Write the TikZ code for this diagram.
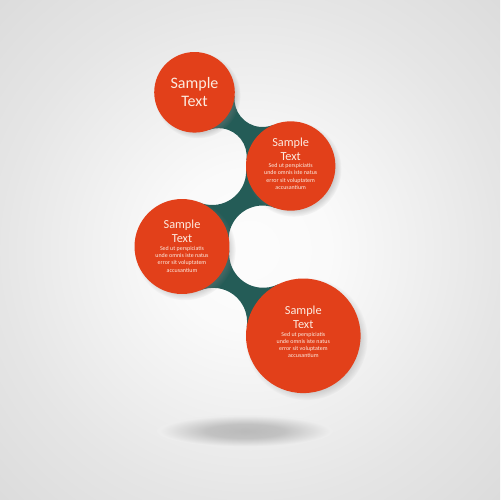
\documentclass[tikz,border=0pt]{standalone}
\usepackage{fontspec}
\setmainfont{Carlito}
\usetikzlibrary{shadows}
\definecolor{bubble}{HTML}{E2401A}
\definecolor{neckc}{HTML}{245C57}
\definecolor{txt}{HTML}{FCEBE0}
\pgfdeclareradialshading{bgshade}{\pgfpoint{0bp}{0bp}}{color(0bp)=(white!99!black); color(8bp)=(white!98!black); color(25bp)=(white!90!black); color(36bp)=(white!86!black); color(50bp)=(white!86!black)}
\pgfdeclareradialshading{gshadow}{\pgfpoint{0bp}{0bp}}{color(0bp)=(white!73!black); color(11bp)=(white!76!black); color(24bp)=(white!92.8!black); color(50bp)=(white!92.8!black)}
\begin{document}
\begin{tikzpicture}[x=0.02cm, y=-0.02cm,
  bub/.style={circle, fill=bubble, inner sep=0pt,
    circular drop shadow={shadow xshift=1.6pt, shadow yshift=-1.6pt, opacity=0.35, shadow scale=1.07}},
  neck/.style={fill=neckc},
  ttl/.style={text=txt, align=center, inner sep=0pt, font=\fontsize{7}{8}\selectfont},
  bodytxt/.style={text=txt, align=center, inner sep=0pt, font=\fontsize{3.4}{4.15}\selectfont}]
\useasboundingbox (0,0) rectangle (500,500);
\shade[shading=bgshade] (0,0) rectangle (500,500);
% ground shadow
\shade[shading=gshadow] (245,431) ellipse [x radius=88, y radius=16];
% centres
\coordinate (p1) at (194.5,92.3);
\coordinate (p2) at (290.7,166);
\coordinate (p3) at (182,246.5);
\coordinate (p4) at (303.3,335.8);
% tangent points of the necks
\coordinate (a12) at (208.75,129.99);
\coordinate (b12) at (246.41,159.96);
\coordinate (d12) at (234.61,96.25);
\coordinate (a23) at (246.09,168.85);
\coordinate (c23) at (228.74,242.36);
\coordinate (b34) at (246.67,327.04);
\coordinate (d34) at (229.31,250.74);
% necks
\fill[neck] (d12) arc[start angle=185.64, end angle=67.14, radius=28] -- (p2) -- (b12)
  arc[start angle=7.76, end angle=-110.73, radius=28] -- (p1) -- cycle;
\fill[neck] (a23) arc[start angle=-3.66, end angle=112.03, radius=34] -- (p3) -- (c23)
  arc[start angle=175.21, end angle=290.9, radius=34] -- (p2) -- cycle;
\fill[neck] (d34) arc[start angle=185.13, end angle=63.92, radius=34] -- (p4) -- (b34)
  arc[start angle=8.80, end angle=-112.41, radius=34] -- (p3) -- cycle;
% circles
\node[bub, minimum size=1.612cm] (c1) at (p1) {};
\node[bub, minimum size=1.788cm] (c2) at (p2) {};
\node[bub, minimum size=1.9cm] (c3) at (p3) {};
\node[bub, minimum size=2.292cm] (c4) at (p4) {};
% texts
\node[ttl, font=\fontsize{9.1}{10.4}\selectfont] (t1) at (194.5,92.3) {Sample\\Text};
\node[ttl] (t2) at (290.7,149.2) {Sample\\Text};
\node[bodytxt] (s2) at (290.7,176.5) {Sed ut perspiciatis\\unde omnis iste natus\\error sit voluptatem\\accusantium};
\node[ttl] (t3) at (182,231.2) {Sample\\Text};
\node[bodytxt] (s3) at (182,259.2) {Sed ut perspiciatis\\unde omnis iste natus\\error sit voluptatem\\accusantium};
\node[ttl] (t4) at (303.3,317.4) {Sample\\Text};
\node[bodytxt] (s4) at (303.3,344.9) {Sed ut perspiciatis\\unde omnis iste natus\\error sit voluptatem\\accusantium};
\end{tikzpicture}
\end{document}
